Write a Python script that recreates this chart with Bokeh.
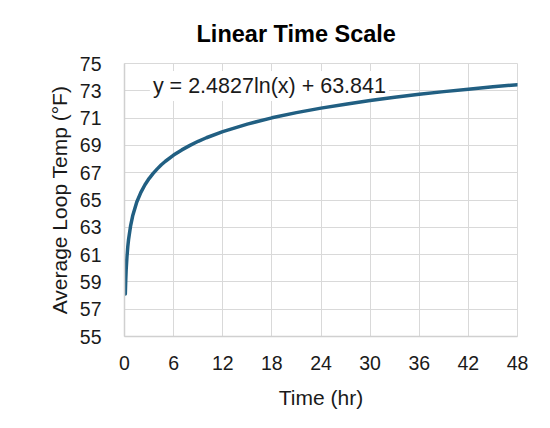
from bokeh.plotting import figure
from bokeh.models import Label, FixedTicker, Range1d
from bokeh.embed import file_html
from bokeh.resources import INLINE

# Data
time_hr = [0.1, 0.15, 0.2, 0.3, 0.4, 0.5, 0.75, 1, 1.5, 2, 2.5, 3, 3.5, 4, 4.5, 5,
           6, 7, 8, 9, 10, 12, 15, 18, 21, 24, 27, 30, 33, 36, 39, 42, 45, 48]
temp_f = [58.12, 59.13, 59.85, 60.85, 61.57, 62.12, 63.13, 63.84, 64.85, 65.56,
          66.12, 66.57, 66.95, 67.28, 67.58, 67.84, 68.29, 68.67, 69.00, 69.30,
          69.56, 70.01, 70.56, 71.02, 71.40, 71.73, 72.02, 72.29, 72.52, 72.74,
          72.94, 73.12, 73.29, 73.45]
x_ticks = [0, 6, 12, 18, 24, 30, 36, 42, 48]
y_ticks = [55, 57, 59, 61, 63, 65, 67, 69, 71, 73, 75]
title_text = "Linear Time Scale"
x_label = "Time (hr)"
y_label = "Average Loop Temp (°F)"
equation = "y = 2.4827ln(x) + 63.841"

FONT = "Liberation Sans"
LINE_COLOR = "#215F82"
GRID = "#d9d9d9"

p = figure(width=534, height=412, output_backend="svg", toolbar_location=None,
           x_range=Range1d(0, 48), y_range=Range1d(55, 75),
           min_border_left=124, min_border_right=17, min_border_top=63,
           min_border_bottom=76)
p.background_fill_color = "white"
p.border_fill_color = "white"
p.outline_line_color = GRID

p.title.text = title_text
p.title.text_font = FONT
p.title.text_font_size = "23.5px"
p.title.text_font_style = "bold"
p.title.text_color = "black"
p.title.align = "left"
p.title.offset = 72
p.title.standoff = 33

p.xaxis.ticker = FixedTicker(ticks=x_ticks)
p.yaxis.ticker = FixedTicker(ticks=y_ticks)
for ax in (p.xaxis[0], p.yaxis[0]):
    ax.axis_line_color = "#d0d0d0"
    ax.axis_line_width = 1.5
    ax.major_tick_line_color = None
    ax.minor_tick_line_color = None
    ax.major_label_text_font = FONT
    ax.major_label_text_font_size = "19.5px"
    ax.major_label_text_color = "#1a1a1a"
    ax.axis_label_text_font = FONT
    ax.axis_label_text_font_size = "21px"
    ax.axis_label_text_font_style = "normal"
    ax.axis_label_text_color = "#1a1a1a"
p.xaxis.axis_label = x_label
p.yaxis.axis_label = y_label
p.xaxis.major_label_standoff = 13
p.xaxis.axis_label_standoff = 13
p.yaxis.major_label_standoff = 17
p.yaxis.axis_label_standoff = 6

p.xgrid.ticker = FixedTicker(ticks=x_ticks)
p.ygrid.ticker = FixedTicker(ticks=y_ticks)
p.grid.grid_line_color = GRID
p.grid.grid_line_width = 1

eq = Label(x=3.1, y=73.35, text=equation, text_font=FONT, text_font_size="21.5px",
           text_color="#1a1a1a", text_baseline="middle", text_align="left",
           background_fill_color="white", padding=3, level="underlay")
p.add_layout(eq)

p.line(time_hr, temp_f, line_color=LINE_COLOR, line_width=3.5, line_cap="round",
       line_join="round")

open("out.html", "w").write(file_html(p, INLINE))
